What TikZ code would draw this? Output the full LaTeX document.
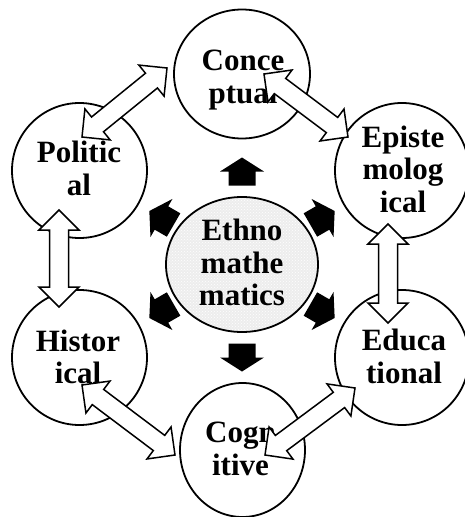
\documentclass[tikz,border=0pt]{standalone}
\usepackage{fontspec}
\setmainfont{Liberation Serif}
\usetikzlibrary{calc,shapes.geometric,patterns}
\newcommand{\dblarrow}[2]{%
  \draw[warr] (#1)
    -- ($(#1)!20pt!(#2)!20pt!90:(#2)$)
    -- ($(#1)!20pt!(#2)!9.5pt!90:(#2)$)
    -- ($(#2)!20pt!(#1)!9.5pt!-90:(#1)$)
    -- ($(#2)!20pt!(#1)!20pt!-90:(#1)$)
    -- (#2)
    -- ($(#2)!20pt!(#1)!20pt!90:(#1)$)
    -- ($(#2)!20pt!(#1)!9.5pt!90:(#1)$)
    -- ($(#1)!20pt!(#2)!9.5pt!-90:(#2)$)
    -- ($(#1)!20pt!(#2)!20pt!-90:(#2)$)
    -- cycle;}
\newcommand{\blkarrow}[2]{%
  \fill[black] ($(#1)!13.5pt!90:(#2)$)
    -- ($(#1)!14pt!(#2)!13.5pt!90:(#2)$)
    -- ($(#1)!14pt!(#2)!22pt!90:(#2)$)
    -- (#2)
    -- ($(#1)!14pt!(#2)!22pt!-90:(#2)$)
    -- ($(#1)!14pt!(#2)!13.5pt!-90:(#2)$)
    -- ($(#1)!13.5pt!-90:(#2)$)
    -- cycle;}
\tikzset{
  circ/.style={draw, line width=1.8pt, ellipse, inner sep=0pt, fill=white},
  lbl/.style={font=\bfseries\fontsize{31}{32.5}\selectfont, align=center, inner sep=0pt},
  warr/.style={draw, line width=1.5pt, fill=white, line join=miter},
}
\begin{document}
\begin{tikzpicture}[x=1pt,y=-1pt]
\useasboundingbox (0,0) rectangle (464,517);
% circles
\node[circ, minimum width=136pt, minimum height=129pt] (con) at (242,74) {};
\node[circ, minimum width=135pt, minimum height=135pt] (pol) at (79.5,170.5) {};
\node[circ, minimum width=134pt, minimum height=135pt] (epi) at (402,170.5) {};
\node[circ, minimum width=135pt, minimum height=135pt] (his) at (79.5,357.5) {};
\node[circ, minimum width=134pt, minimum height=135pt] (edu) at (402,357.5) {};
\node[circ, minimum width=125pt, minimum height=134pt] (cog) at (242.5,450) {};
\node[draw, line width=1.8pt, ellipse, inner sep=0pt, minimum width=152pt, minimum height=135pt,
      preaction={fill=gray!14}, pattern=crosshatch dots, pattern color=white] (eth) at (242,264.5) {};
% labels
\node[lbl] (lcon) at (243,80) {Conce\\ptual};
\node[lbl] (lpol) at (79,168.5) {Politic\\al};
\node[lbl] (lepi) at (403,169) {Episte\\molog\\ical};
\node[lbl] (leth) at (242,262.5) {Ethno\\mathe\\matics};
\node[lbl] (lhis) at (78,357) {Histor\\ical};
\node[lbl] (ledu) at (404,356.5) {Educa\\tional};
\node[lbl] (lcog) at (240.5,449) {Cogn\\itive};
% black arrows around the centre
\foreach \a/\n in {90/u,150/ul,210/dl,270/d,330/dr,30/ur}{
  \coordinate (t\n) at ($(eth.center)+(\a:79pt)$);
  \coordinate (p\n) at ($(eth.center)+(\a:107pt)$);
  \blkarrow{t\n}{p\n}
}
% white double arrows
\coordinate (pc1) at (82,137);  \coordinate (pc2) at (167,68);
\coordinate (ce1) at (264,74);  \coordinate (ce2) at (348,137);
\coordinate (ph1) at (59,210);  \coordinate (ph2) at (59,307);
\coordinate (ee1) at (388,224); \coordinate (ee2) at (388,323);
\coordinate (hc1) at (82,385);  \coordinate (hc2) at (175,455);
\coordinate (ce3) at (265,455); \coordinate (ce4) at (355,388);
\dblarrow{pc1}{pc2}
\dblarrow{ce1}{ce2}
\dblarrow{ph1}{ph2}
\dblarrow{ee1}{ee2}
\dblarrow{hc1}{hc2}
\dblarrow{ce3}{ce4}
\end{tikzpicture}
\end{document}
